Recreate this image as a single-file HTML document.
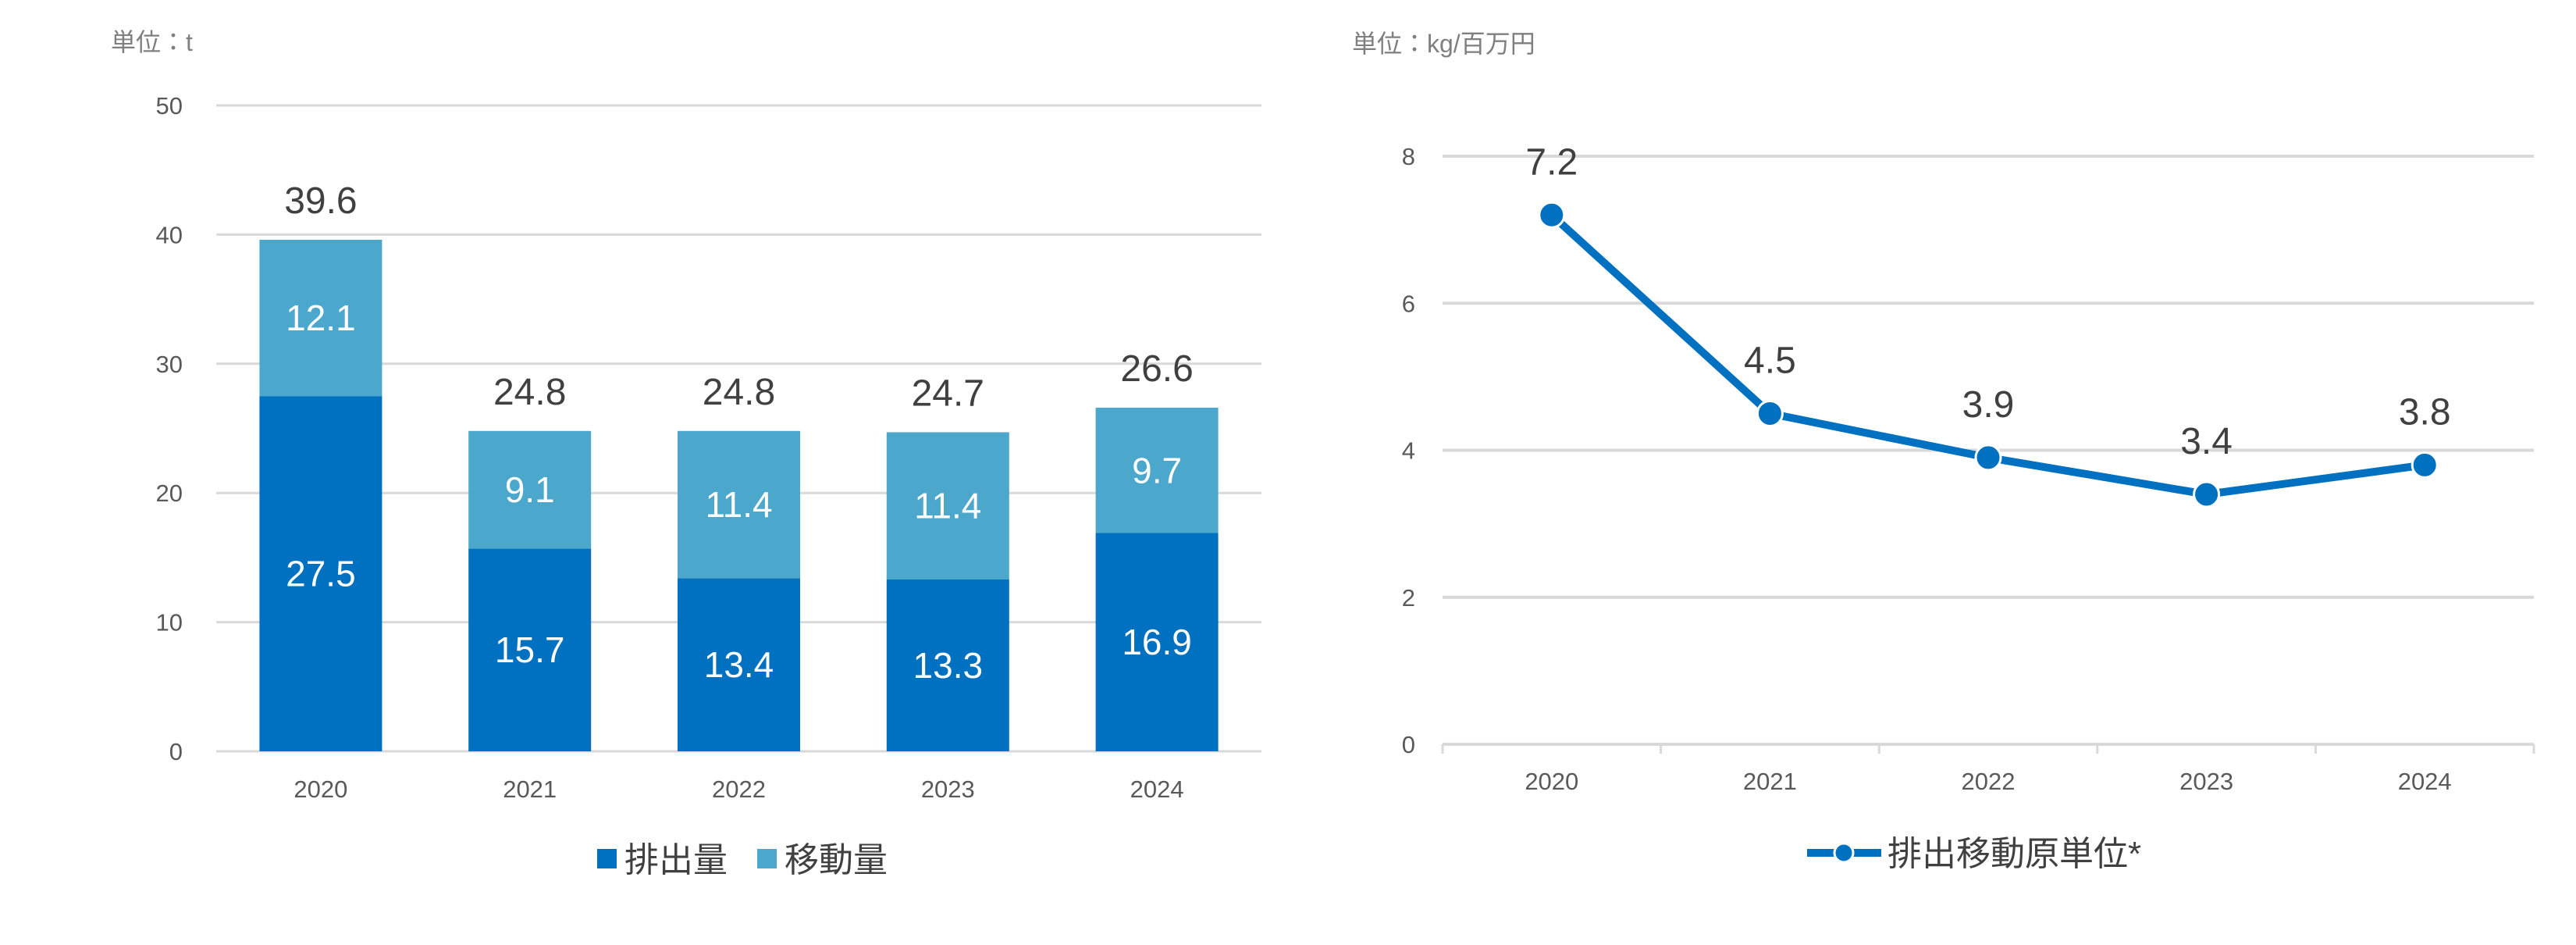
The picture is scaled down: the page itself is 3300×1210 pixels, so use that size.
<!DOCTYPE html>
<html><head><meta charset="utf-8"><style>
html,body{margin:0;padding:0;background:#fff;}
svg{display:block;font-family:"Liberation Sans","Noto Sans CJK JP",sans-serif;}
</style></head><body>
<svg id="c" width="3300" height="1210" viewBox="0 0 3300 1210" xmlns="http://www.w3.org/2000/svg">
<text x="142" y="65" font-size="32" fill="#7f7f7f">単位：t</text>
<text x="1732" y="67" font-size="32" fill="#7f7f7f">単位：kg/百万円</text>
<g id="L"></g><g id="R"></g>
<rect x="765" y="1087" width="25" height="25" fill="#0070c0"/>
<text x="800" y="1116" font-size="44" fill="#404040">排出量</text>
<rect x="970" y="1087" width="25" height="25" fill="#4ba8cc"/>
<text x="1005" y="1116" font-size="44" fill="#404040">移動量</text>
<line x1="2315" y1="1092" x2="2410" y2="1092" stroke="#0070c0" stroke-width="10"/>
<circle cx="2362" cy="1092" r="12" fill="#0070c0" stroke="#fff" stroke-width="3"/>
<text x="2418" y="1108" font-size="44" fill="#404040">排出移動原単位*</text>
</svg>
<script>
const years=["2020","2021","2022","2023","2024"];
const emission=[27.5,15.7,13.4,13.3,16.9];
const transfer=[12.1,9.1,11.4,11.4,9.7];
const totals=[39.6,24.8,24.8,24.7,26.6];
const leftTicks=[0,10,20,30,40,50];
const intensity=[7.2,4.5,3.9,3.4,3.8];
const rightTicks=[0,2,4,6,8];
const NS="http://www.w3.org/2000/svg";
function mk(p,t,a){const e=document.createElementNS(NS,t);for(const k in a)e.setAttribute(k,a[k]);p.appendChild(e);return e;}
const L=document.getElementById('L'),R=document.getElementById('R');
// left
const lx0=277,lx1=1616,ly0=962,ly1=135,lmax=50;
const ly=v=>ly0-(v/lmax)*(ly0-ly1);
const lbw=(lx1-lx0)/years.length;
const lcx=i=>lx0+lbw*(i+0.5);
leftTicks.forEach(t=>{
 const g=mk(L,'line',{x1:lx0,x2:lx1,y1:ly(t),y2:ly(t),stroke:'#d9d9d9','stroke-width':3});
 
 const tx=mk(L,'text',{x:234,y:ly(t)+11,'font-size':31,fill:'#595959','text-anchor':'end'});tx.textContent=t;
 
});
years.forEach((y,i)=>{
 const w=157,x=lcx(i)-w/2;
 const b1=mk(L,'rect',{x:x,y:ly(emission[i]),width:w,height:ly0-ly(emission[i]),fill:'#0070c0'});
 
 const top=emission[i]+transfer[i];
 const b2=mk(L,'rect',{x:x,y:ly(top),width:w,height:ly(emission[i])-ly(top),fill:'#4ba8cc'});
 
 const t1=mk(L,'text',{x:lcx(i),y:(ly(emission[i])+ly0)/2+16,'font-size':46,fill:'#fff','text-anchor':'middle'});t1.textContent=emission[i].toFixed(1);
 
 const t2=mk(L,'text',{x:lcx(i),y:(ly(emission[i])+ly(top))/2+16,'font-size':46,fill:'#fff','text-anchor':'middle'});t2.textContent=transfer[i].toFixed(1);
 
 const t3=mk(L,'text',{x:lcx(i),y:ly(totals[i])-34,'font-size':48,fill:'#404040','text-anchor':'middle'});t3.textContent=totals[i].toFixed(1);
 
 const t4=mk(L,'text',{x:lcx(i),y:1021,'font-size':31,fill:'#595959','text-anchor':'middle'});t4.textContent=y;
 
});
// right
const rx0=1848,rx1=3246,ry0=953,ry1=200,rmax=8;
const ry=v=>ry0-(v/rmax)*(ry0-ry1);
const rbw=(rx1-rx0)/years.length;
const rcx=i=>rx0+rbw*(i+0.5);
rightTicks.forEach(t=>{
 const g=mk(R,'line',{x1:rx0,x2:rx1,y1:ry(t),y2:ry(t),stroke:'#d9d9d9','stroke-width':4});
 
 const tx=mk(R,'text',{x:1813,y:ry(t)+11,'font-size':31,fill:'#595959','text-anchor':'end'});tx.textContent=t;
 
});
for(let i=0;i<=years.length;i++){
 const tk=mk(R,'line',{x1:rx0+rbw*i,x2:rx0+rbw*i,y1:ry0,y2:ry0+12,stroke:'#d9d9d9','stroke-width':3});
 
}
const pts=intensity.map((v,i)=>rcx(i)+','+ry(v)).join(' ');
const pl=mk(R,'polyline',{points:pts,fill:'none',stroke:'#0070c0','stroke-width':10,'stroke-linejoin':'round'});

years.forEach((y,i)=>{
 const c=mk(R,'circle',{cx:rcx(i),cy:ry(intensity[i]),r:16,fill:'#0070c0',stroke:'#fff','stroke-width':3});
 
 const t=mk(R,'text',{x:rcx(i),y:ry(intensity[i])-52,'font-size':48,fill:'#404040','text-anchor':'middle'});t.textContent=intensity[i].toFixed(1);
 
 const t4=mk(R,'text',{x:rcx(i),y:1011,'font-size':31,fill:'#595959','text-anchor':'middle'});t4.textContent=y;
 
});
</script>
</body></html>
